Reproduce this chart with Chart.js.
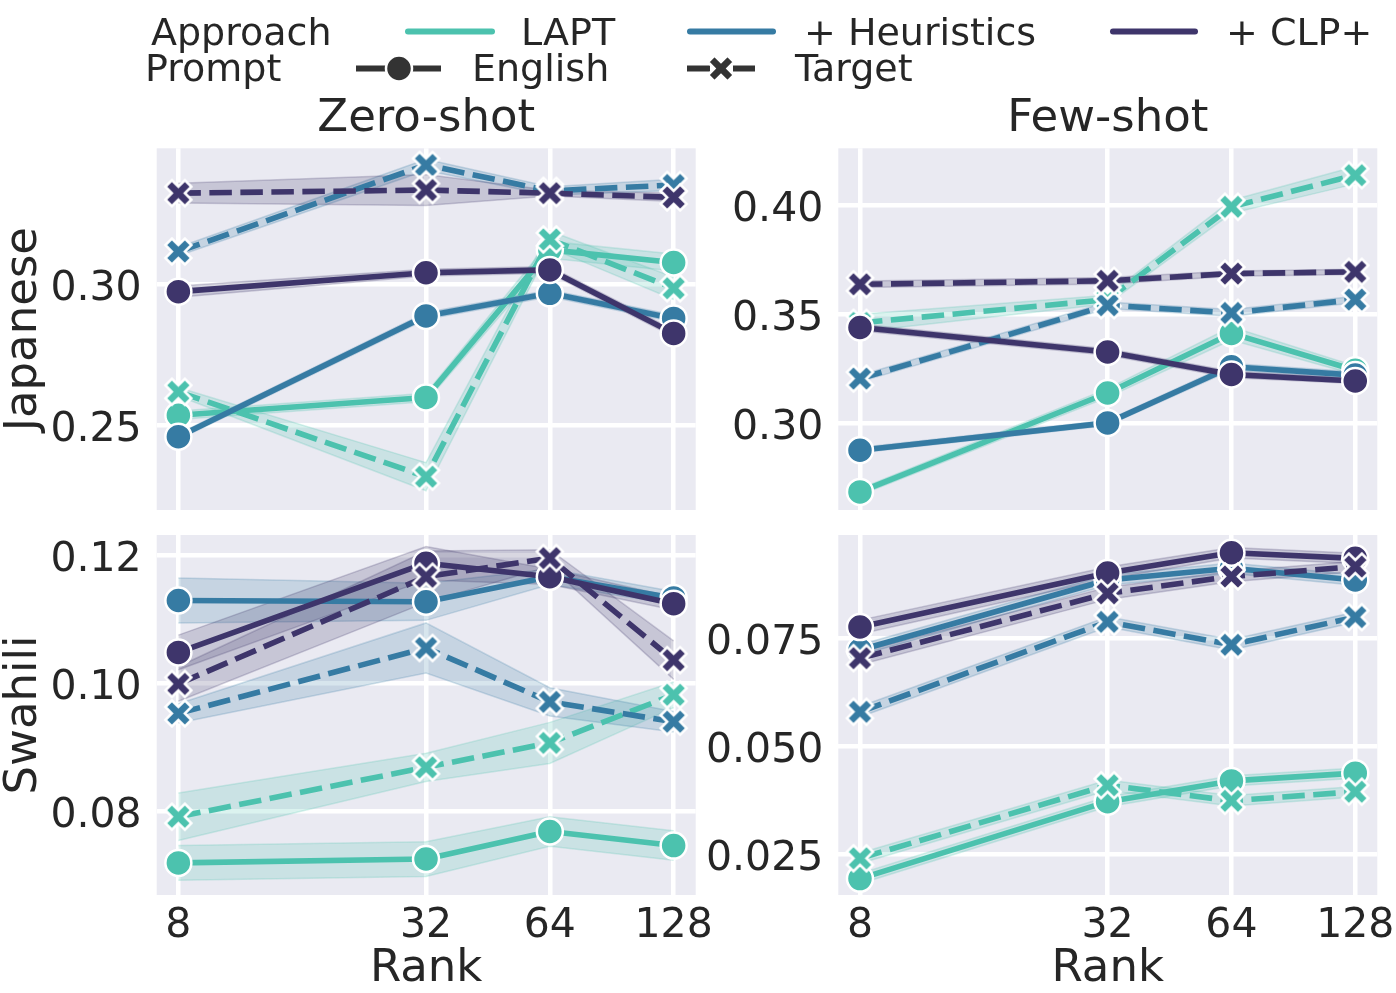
<!DOCTYPE html>
<html>
<head>
<meta charset="utf-8">
<script src="https://cdn.jsdelivr.net/npm/chart.js@4.4.0/dist/chart.umd.min.js"></script>
<style>
  html, body { margin: 0; padding: 0; background: #fff; overflow: hidden; }
  #fig { position: relative; width: 1396px; height: 993px; overflow: hidden;
         font-family: 'DejaVu Sans', sans-serif; color: #262626; }
  #fig canvas { position: absolute; }
  .lg { position: absolute; font-size: 38px; line-height: 38px; white-space: nowrap; }
  #handles { position: absolute; left: 0; top: 0; }
</style>
</head>
<body>
<div id="fig">
  <canvas id="jaZero" width="740" height="470" style="left:0px;top:90px;width:740px;height:470px"></canvas>
  <canvas id="jaFew" width="720" height="470" style="left:700px;top:90px;width:720px;height:470px"></canvas>
  <canvas id="swZero" width="740" height="513" style="left:0px;top:480px;width:740px;height:513px"></canvas>
  <canvas id="swFew" width="720" height="513" style="left:700px;top:480px;width:720px;height:513px"></canvas>

  <svg id="handles" width="1396" height="100"></svg>
  <div class="lg" style="left:151px;top:13px">Approach</div>
  <div class="lg" style="left:521px;top:13px">LAPT</div>
  <div class="lg" style="left:804px;top:13px">+ Heuristics</div>
  <div class="lg" style="left:1226px;top:13px">+ CLP+</div>
  <div class="lg" style="left:145px;top:49px">Prompt</div>
  <div class="lg" style="left:472px;top:49px">English</div>
  <div class="lg" style="left:795px;top:49px">Target</div>
</div>
<script>
const ranks = [8, 32, 64, 128];
const approachColors = ['#4cc2ae', '#367ba3', '#3e356b'];

// Japanese, zero-shot (mean, then CI half width)
const jaZeroLaptEn = [0.2535, 0.2598, 0.3121, 0.3076];
const jaZeroLaptTg = [0.2618, 0.2317, 0.3158, 0.2985];
const jaZeroHeurEn = [0.2459, 0.2887, 0.2967, 0.2878];
const jaZeroHeurTg = [0.3115, 0.3422, 0.3330, 0.3351];
const jaZeroClpEn  = [0.2973, 0.3040, 0.3050, 0.2825];
const jaZeroClpTg  = [0.3322, 0.3333, 0.3322, 0.3307];
const jaZeroLaptEnCi = [0.0015, 0.0015, 0.003, 0.003];
const jaZeroLaptTgCi = [0.0015, 0.005, 0.003, 0.004];
const jaZeroHeurEnCi = [0.001, 0.0012, 0.0012, 0.0012];
const jaZeroHeurTgCi = [0.0015, 0.002, 0.0015, 0.002];
const jaZeroClpEnCi  = [0.002, 0.0012, 0.0012, 0.0012];
const jaZeroClpTgCi  = [0.0035, 0.0055, 0.001, 0.0015];

// Japanese, few-shot
const jaFewLaptEn = [0.2686, 0.3139, 0.3412, 0.3243];
const jaFewLaptTg = [0.3460, 0.3567, 0.3992, 0.4137];
const jaFewHeurEn = [0.2877, 0.3002, 0.3259, 0.3221];
const jaFewHeurTg = [0.3205, 0.3541, 0.3506, 0.3567];
const jaFewClpEn  = [0.3439, 0.3327, 0.3224, 0.3194];
const jaFewClpTg  = [0.3637, 0.3653, 0.3686, 0.3694];
const jaFewLaptEnCi = [0.0015, 0.002, 0.003, 0.002];
const jaFewLaptTgCi = [0.004, 0.002, 0.003, 0.004];
const jaFewHeurEnCi = [0.0012, 0.0012, 0.0015, 0.0015];
const jaFewHeurTgCi = [0.0015, 0.0015, 0.0015, 0.0015];
const jaFewClpEnCi  = [0.0015, 0.0015, 0.0015, 0.0012];
const jaFewClpTgCi  = [0.0015, 0.0015, 0.0012, 0.0012];

// Swahili, zero-shot
const swZeroLaptEn = [0.0720, 0.0726, 0.0769, 0.0747];
const swZeroLaptTg = [0.0792, 0.0869, 0.0907, 0.0982];
const swZeroHeurEn = [0.1129, 0.1127, 0.1166, 0.1133];
const swZeroHeurTg = [0.0953, 0.1055, 0.0971, 0.0940];
const swZeroClpEn  = [0.1048, 0.1187, 0.1166, 0.1124];
const swZeroClpTg  = [0.0999, 0.1166, 0.1195, 0.1036];
const swZeroLaptEnCi = [0.0027, 0.0027, 0.0023, 0.0023];
const swZeroLaptTgCi = [0.0037, 0.0022, 0.0032, 0.002];
const swZeroHeurEnCi = [0.0035, 0.0029, 0.0012, 0.001];
const swZeroHeurTgCi = [0.0015, 0.0039, 0.0022, 0.0016];
const swZeroClpEnCi  = [0.0027, 0.0026, 0.0012, 0.001];
const swZeroClpTgCi  = [0.0027, 0.004, 0.0013, 0.003];

// Swahili, few-shot
const swFewLaptEn = [0.0194, 0.0372, 0.0420, 0.0438];
const swFewLaptTg = [0.0241, 0.0410, 0.0374, 0.0395];
const swFewHeurEn = [0.0723, 0.0885, 0.0912, 0.0885];
const swFewHeurTg = [0.0580, 0.0788, 0.0735, 0.0799];
const swFewClpEn  = [0.0776, 0.0901, 0.0948, 0.0935];
const swFewClpTg  = [0.0704, 0.0854, 0.0893, 0.0916];
const swFewLaptEnCi = [0.0012, 0.0012, 0.0012, 0.0012];
const swFewLaptTgCi = [0.0012, 0.0012, 0.0012, 0.0012];
const swFewHeurEnCi = [0.0012, 0.0012, 0.0012, 0.0012];
const swFewHeurTgCi = [0.0012, 0.0012, 0.0012, 0.0012];
const swFewClpEnCi  = [0.0016, 0.0014, 0.0012, 0.0012];
const swFewClpTgCi  = [0.0015, 0.0014, 0.0012, 0.0012];

// tick labels
const jaZeroTicks = [0.25, 0.30];
const jaFewTicks = [0.30, 0.35, 0.40];
const swZeroTicks = [0.08, 0.10, 0.12];
const swFewTicks = [0.025, 0.050, 0.075];

const FONT = "'DejaVu Sans', sans-serif";
const TEXT = '#262626';
Chart.defaults.font.family = FONT;
Chart.defaults.color = TEXT;

function hexA(hex, a) {
    const n = parseInt(hex.slice(1), 16);
    return `rgba(${n >> 16}, ${(n >> 8) & 255}, ${n & 255}, ${a})`;
}

// filled "X" marker like matplotlib's, white edge
function makeX(color, size, edge) {
    const dim = Math.ceil(size + edge * 2 + 2);
    const c = document.createElement('canvas');
    c.width = dim; c.height = dim;
    const g = c.getContext('2d');
    const pts = [[-1,-2],[0,-1],[1,-2],[2,-1],[1,0],[2,1],[1,2],[0,1],[-1,2],[-2,1],[-1,0],[-2,-1]];
    g.translate(dim / 2, dim / 2);
    g.beginPath();
    pts.forEach(([x, y], i) => {
        const px = x / 4 * size, py = y / 4 * size;
        i ? g.lineTo(px, py) : g.moveTo(px, py);
    });
    g.closePath();
    g.fillStyle = color;
    g.fill();
    g.lineWidth = edge;
    g.strokeStyle = '#fff';
    g.stroke();
    return c;
}
const xMarkers = approachColors.map(c => makeX(c, 26, 2.5));

function buildDatasets(means, cis) {
    const bands = [], lines = [];
    means.forEach((m, i) => {
        const color = approachColors[Math.floor(i / 2)];
        const target = i % 2 === 1;
        bands.push({
            data: ranks.map((r, k) => ({x: r, y: m[k] - cis[i][k]})),
            borderColor: hexA(color, 0.22), borderWidth: 1.5,
            pointRadius: 0, fill: false
        });
        bands.push({
            data: ranks.map((r, k) => ({x: r, y: m[k] + cis[i][k]})),
            borderColor: hexA(color, 0.22), borderWidth: 1.5,
            backgroundColor: hexA(color, 0.2),
            pointRadius: 0, fill: '-1'
        });
        lines.push({
            data: ranks.map((r, k) => ({x: r, y: m[k]})),
            borderColor: color,
            borderWidth: 5.6,
            borderDash: target ? [22.5, 8.5] : [],
            borderJoinStyle: 'round',
            tension: 0,
            fill: false,
            pointStyle: target ? xMarkers[Math.floor(i / 2)] : 'circle',
            pointRadius: 13,
            pointBackgroundColor: color,
            pointBorderColor: '#fff',
            pointBorderWidth: 2.5
        });
    });
    const all = bands.concat(lines);
    // later in the list = drawn on top
    all.forEach((d, i) => { d.order = all.length - i; });
    return all;
}

const panelDeco = {
    id: 'panelDeco',
    beforeDraw(chart) {
        const {ctx, chartArea: a} = chart;
        ctx.save();
        ctx.fillStyle = '#eaeaf2';
        ctx.fillRect(a.left, a.top, a.right - a.left, a.bottom - a.top);
        ctx.restore();
    },
    afterDraw(chart, args, opts) {
        if (!opts.text) return;
        const {ctx, chartArea: a} = chart;
        ctx.save();
        ctx.font = `45px ${FONT}`;
        ctx.fillStyle = TEXT;
        ctx.textAlign = 'center';
        ctx.textBaseline = 'alphabetic';
        ctx.fillText(opts.text, (a.left + a.right) / 2, a.top - 17);
        ctx.restore();
    }
};

function makePanel(id, cfg) {
    const {canvasLeft, canvasTop, width, height, area} = cfg;
    const yWidth = area.l - canvasLeft;
    const xHeight = cfg.bottomRow ? canvasTop + height - area.b : 0;
    const padBottom = cfg.bottomRow ? 0 : canvasTop + height - area.b;
    new Chart(document.getElementById(id), {
        type: 'line',
        data: { datasets: buildDatasets(cfg.means, cfg.cis) },
        options: {
            responsive: false,
            animation: false,
            layout: { padding: {
                left: 0, top: area.t - canvasTop,
                right: canvasLeft + width - area.r, bottom: padBottom
            } },
            plugins: {
                legend: { display: false },
                tooltip: { enabled: false },
                panelDeco: { text: cfg.title || '' }
            },
            scales: {
                x: {
                    type: 'logarithmic',
                    bounds: 'data',
                    min: Math.pow(2, 2.825),
                    max: Math.pow(2, 7.178),
                    afterBuildTicks: s => { s.ticks = ranks.map(v => ({value: v})); },
                    afterFit: s => { s.height = xHeight; },
                    grid: { color: '#fff', lineWidth: 4.5, drawTicks: false },
                    border: { display: false },
                    ticks: {
                        display: !!cfg.bottomRow,
                        autoSkip: false, maxRotation: 0, padding: 7,
                        font: { size: 41 },
                        callback: v => String(v)
                    },
                    title: {
                        display: !!cfg.bottomRow, text: 'Rank',
                        font: { size: 45, lineHeight: 1 },
                        padding: { top: 0, bottom: 1 }
                    }
                },
                y: {
                    type: 'linear',
                    bounds: 'data',
                    min: cfg.yMin, max: cfg.yMax,
                    afterBuildTicks: s => { s.ticks = cfg.ticks.map(v => ({value: v})); },
                    afterFit: s => { s.width = yWidth; },
                    grid: { color: '#fff', lineWidth: 4.5, drawTicks: false },
                    border: { display: false },
                    ticks: {
                        padding: 15,
                        labelOffset: 5,
                        font: { size: 41 },
                        callback: v => v.toFixed(cfg.decimals)
                    },
                    title: {
                        display: !!cfg.yTitle, text: cfg.yTitle || '',
                        font: { size: 45, lineHeight: 1 },
                        padding: { top: 2, bottom: 0 }
                    }
                }
            }
        },
        plugins: [panelDeco]
    });
}

makePanel('jaZero', {
    canvasLeft: 0, canvasTop: 90, width: 740, height: 470,
    area: { l: 156.7, t: 148.3, r: 695.7, b: 510 },
    yMin: 0.2199, yMax: 0.3481, ticks: jaZeroTicks, decimals: 2,
    title: 'Zero-shot', yTitle: 'Japanese',
    means: [jaZeroLaptEn, jaZeroLaptTg, jaZeroHeurEn, jaZeroHeurTg, jaZeroClpEn, jaZeroClpTg],
    cis: [jaZeroLaptEnCi, jaZeroLaptTgCi, jaZeroHeurEnCi, jaZeroHeurTgCi, jaZeroClpEnCi, jaZeroClpTgCi]
});
makePanel('jaFew', {
    canvasLeft: 700, canvasTop: 90, width: 720, height: 470,
    area: { l: 838.3, t: 148.3, r: 1377.3, b: 510 },
    yMin: 0.2603, yMax: 0.4260, ticks: jaFewTicks, decimals: 2,
    title: 'Few-shot',
    means: [jaFewLaptEn, jaFewLaptTg, jaFewHeurEn, jaFewHeurTg, jaFewClpEn, jaFewClpTg],
    cis: [jaFewLaptEnCi, jaFewLaptTgCi, jaFewHeurEnCi, jaFewHeurTgCi, jaFewClpEnCi, jaFewClpTgCi]
});
makePanel('swZero', {
    canvasLeft: 0, canvasTop: 480, width: 740, height: 513, bottomRow: true,
    area: { l: 156.7, t: 535, r: 695.7, b: 895 },
    yMin: 0.0670, yMax: 0.1231, ticks: swZeroTicks, decimals: 2,
    yTitle: 'Swahili',
    means: [swZeroLaptEn, swZeroLaptTg, swZeroHeurEn, swZeroHeurTg, swZeroClpEn, swZeroClpTg],
    cis: [swZeroLaptEnCi, swZeroLaptTgCi, swZeroHeurEnCi, swZeroHeurTgCi, swZeroClpEnCi, swZeroClpTgCi]
});
makePanel('swFew', {
    canvasLeft: 700, canvasTop: 480, width: 720, height: 513, bottomRow: true,
    area: { l: 838.3, t: 535, r: 1377.3, b: 895 },
    yMin: 0.0156, yMax: 0.0989, ticks: swFewTicks, decimals: 3,
    means: [swFewLaptEn, swFewLaptTg, swFewHeurEn, swFewHeurTg, swFewClpEn, swFewClpTg],
    cis: [swFewLaptEnCi, swFewLaptTgCi, swFewHeurEnCi, swFewHeurTgCi, swFewClpEnCi, swFewClpTgCi]
});

// legend handles
(function drawHandles() {
    const svg = document.getElementById('handles');
    const NS = 'http://www.w3.org/2000/svg';
    const add = (tag, attrs) => {
        const el = document.createElementNS(NS, tag);
        Object.entries(attrs).forEach(([k, v]) => el.setAttribute(k, v));
        svg.appendChild(el);
    };
    const approachHandles = [[408, 492], [690, 773], [1113, 1195]];
    approachHandles.forEach(([x1, x2], i) => {
        add('line', { x1, x2, y1: 31.5, y2: 31.5, stroke: approachColors[i],
                      'stroke-width': 6, 'stroke-linecap': 'round' });
    });
    const gray = '#333333';
    add('line', { x1: 356, x2: 441, y1: 68.5, y2: 68.5, stroke: gray, 'stroke-width': 6 });
    add('circle', { cx: 399, cy: 68.5, r: 13, fill: gray, stroke: '#fff', 'stroke-width': 2.5 });
    add('line', { x1: 687, x2: 710, y1: 68.5, y2: 68.5, stroke: gray, 'stroke-width': 6 });
    add('line', { x1: 733, x2: 755, y1: 68.5, y2: 68.5, stroke: gray, 'stroke-width': 6 });
    const pts = [[-1,-2],[0,-1],[1,-2],[2,-1],[1,0],[2,1],[1,2],[0,1],[-1,2],[-2,1],[-1,0],[-2,-1]];
    add('polygon', { points: pts.map(([x, y]) => `${721 + x / 4 * 26},${68.5 + y / 4 * 26}`).join(' '),
                     fill: gray, stroke: '#fff', 'stroke-width': 2.5 });
})();
</script>
</body>
</html>
